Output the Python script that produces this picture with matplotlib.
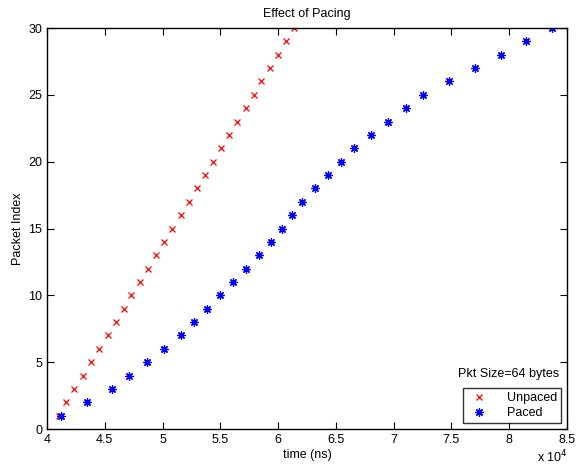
import numpy as np
import matplotlib
matplotlib.use('Agg')
import matplotlib.pyplot as plt
from matplotlib.ticker import FuncFormatter

plt.rcParams['font.family'] = ['Liberation Sans', 'DejaVu Sans']

# packet index 1..30
pkt_index = list(range(1, 31))

# arrival times (ns)
unpaced_t = [41040, 41640, 42360, 43090, 43810, 44530, 45250, 45950, 46640, 47300,
             48020, 48740, 49430, 50150, 50840, 51570, 52290, 52960, 53650, 54370,
             55060, 55750, 56470, 57200, 57890, 58550, 59270, 59970, 60680, 61400]
paced_t = [41190, 43440, 45650, 47120, 48630, 50130, 51600, 52720, 53870, 55000,
           56120, 57250, 58370, 59390, 60310, 61200, 62090, 63220, 64340, 65440,
           66570, 68070, 69540, 71040, 72540, 74790, 77040, 79260, 81480, 83730]

x_ticks = [40000, 45000, 50000, 55000, 60000, 65000, 70000, 75000, 80000, 85000]
y_ticks = [0, 5, 10, 15, 20, 25, 30]

fs = 9

fig = plt.figure(figsize=(5.8, 4.66), dpi=100)
ax = fig.add_axes([47 / 580, 37 / 466, 520 / 580, 401 / 466])

ax.plot(unpaced_t, pkt_index, linestyle='none', marker='x', color='red',
        markersize=5, markeredgewidth=0.9, label='Unpaced')
ax.plot(paced_t, pkt_index, linestyle='none', marker=(8, 2, 0), color='blue',
        markersize=6, markeredgewidth=0.9, label='Paced')

ax.set_xlim(40000, 85000)
ax.set_ylim(0, 30)
ax.set_xticks(x_ticks)
ax.set_yticks(y_ticks)
ax.xaxis.set_major_formatter(FuncFormatter(lambda v, p: '%g' % (v / 1e4)))

# MATLAB-ish look: ticks inside, on all sides
ax.tick_params(direction='in', top=True, right=True, labelsize=fs, length=5, width=0.8)
for s in ax.spines.values():
    s.set_linewidth(1.0)

ax.set_title('Effect of Pacing', fontsize=fs, pad=8)
ax.set_xlabel('time (ns)', fontsize=fs, labelpad=2)
ax.set_ylabel('Packet Index', fontsize=fs, labelpad=3)
fig.text(552 / 580, 1 / 466, 'x 10$^4$', fontsize=fs, ha='center', va='bottom')

leg = ax.legend(loc='lower right', fontsize=fs, frameon=True, fancybox=False,
                edgecolor='black', borderaxespad=0.5, handletextpad=1.2,
                borderpad=0.3, labelspacing=0.25)
leg.get_frame().set_linewidth(1.0)
ax.text(0.985, 0.137, 'Pkt Size=64 bytes', transform=ax.transAxes,
        fontsize=fs, ha='right', va='center')

fig.savefig('out.png', dpi=100)
